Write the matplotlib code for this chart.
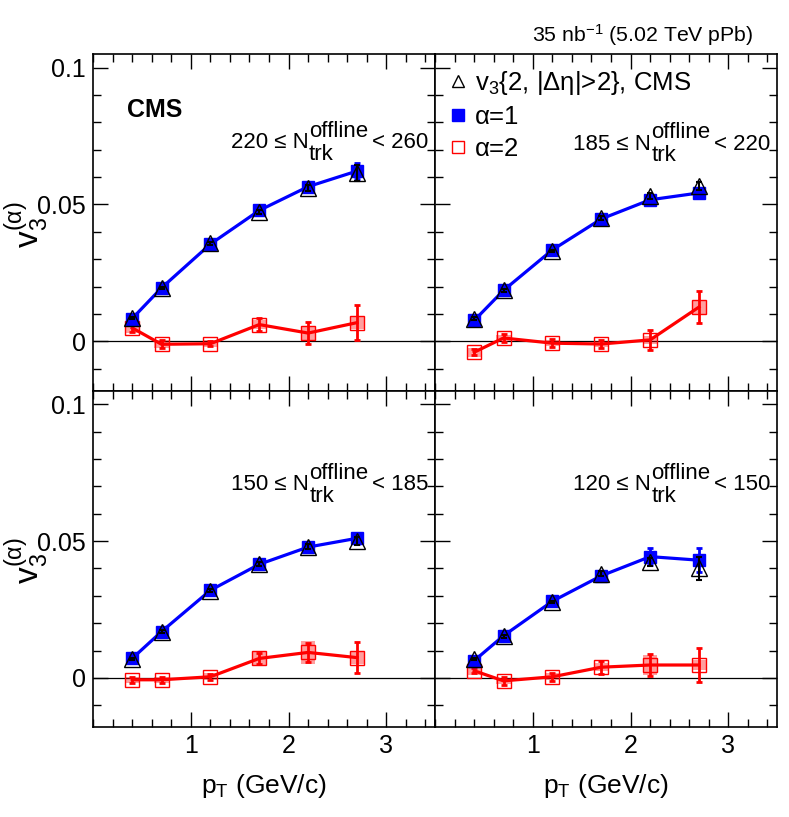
import matplotlib.pyplot as plt
from matplotlib.lines import Line2D
from matplotlib.ticker import MultipleLocator

plt.rcParams['font.family'] = ['Liberation Sans', 'DejaVu Sans']
plt.rcParams['mathtext.fontset'] = 'custom'
plt.rcParams['mathtext.rm'] = 'Liberation Sans'
plt.rcParams['mathtext.it'] = 'Liberation Sans:italic'
plt.rcParams['mathtext.bf'] = 'Liberation Sans:bold'

# pT bin centres (GeV/c)
pt = [0.4, 0.7, 1.2, 1.7, 2.2, 2.7]

# panel labels (multiplicity ranges)
ranges = ["220", "260"], ["185", "220"], ["150", "185"], ["120", "150"]

# alpha = 1 (blue filled squares)
a1 = [[0.0083, 0.0195, 0.0355, 0.0478, 0.0565, 0.0622],
      [0.0076, 0.0186, 0.0334, 0.0447, 0.0517, 0.0542],
      [0.0071, 0.0169, 0.0320, 0.0415, 0.0478, 0.0510],
      [0.0063, 0.0154, 0.0280, 0.0373, 0.0443, 0.0430]]
a1_err = [[0.0008, 0.0008, 0.0008, 0.0010, 0.0015, 0.0030],
          [0.0008, 0.0008, 0.0008, 0.0010, 0.0012, 0.0018],
          [0.0008, 0.0008, 0.0008, 0.0010, 0.0012, 0.0020],
          [0.0008, 0.0008, 0.0008, 0.0010, 0.0030, 0.0043]]

# v3{2, |deta|>2} (open black triangles)
v32 = [[0.0085, 0.0195, 0.0358, 0.0472, 0.0560, 0.0615],
       [0.0082, 0.0186, 0.0330, 0.0450, 0.0530, 0.0566],
       [0.0069, 0.0169, 0.0318, 0.0417, 0.0480, 0.0500],
       [0.0069, 0.0152, 0.0277, 0.0381, 0.0422, 0.0400]]
v32_err = [[0.0005, 0.0005, 0.0005, 0.0008, 0.0012, 0.0030],
           [0.0005, 0.0005, 0.0005, 0.0008, 0.0010, 0.0015],
           [0.0005, 0.0005, 0.0005, 0.0008, 0.0010, 0.0015],
           [0.0005, 0.0005, 0.0005, 0.0008, 0.0015, 0.0043]]

# alpha = 2 (red open squares) with stat errors and systematic boxes
a2 = [[0.0049, -0.0011, -0.0009, 0.0061, 0.0030, 0.0068],
      [-0.0040, 0.0012, -0.0007, -0.0010, 0.0005, 0.0125],
      [-0.0007, -0.0007, 0.0004, 0.0071, 0.0093, 0.0074],
      [0.0026, -0.0011, 0.0004, 0.0039, 0.0047, 0.0047]]
a2_err = [[0.0015, 0.0015, 0.0010, 0.0025, 0.0040, 0.0063],
          [0.0010, 0.0015, 0.0015, 0.0015, 0.0037, 0.0060],
          [0.0010, 0.0012, 0.0010, 0.0020, 0.0035, 0.0056],
          [0.0010, 0.0015, 0.0015, 0.0024, 0.0041, 0.0061]]
a2_sys = [[0.0020, 0.0015, 0.0012, 0.0018, 0.0025, 0.0022],
          [0.0017, 0.0012, 0.0012, 0.0012, 0.0015, 0.0025],
          [0.0012, 0.0012, 0.0012, 0.0025, 0.0043, 0.0022],
          [0.0015, 0.0012, 0.0012, 0.0015, 0.0035, 0.0018]]

fig, axes = plt.subplots(2, 2, figsize=(7.89, 8.17), dpi=100, sharex=True, sharey=True)
fig.subplots_adjust(left=0.118, right=0.985, top=0.934, bottom=0.110, wspace=0, hspace=0)

text_y = [0.72, 0.716, 0.703, 0.703]


def nlabel(ax, lo, hi, y):
    fs = 16
    t1 = ax.text(0.402, y, lo + " ≤ N", transform=ax.transAxes, ha='left',
                 va='baseline', fontsize=fs)
    t2 = ax.annotate("offline", xy=(1, 0), xycoords=t1, xytext=(0.5, 8),
                     textcoords='offset points', ha='left', va='bottom', fontsize=fs)
    ax.annotate("trk", xy=(1, 0), xycoords=t1, xytext=(0.5, -8.5),
                textcoords='offset points', ha='left', va='bottom', fontsize=fs)
    ax.annotate("< " + hi, xy=(1, 0), xycoords=t2, xytext=(3, -8),
                textcoords='offset points', ha='left', va='bottom', fontsize=fs)


for i, ax in enumerate(axes.flat):
    ax.axhline(0, color='black', lw=0.9, zorder=1)

    # alpha = 2
    ax.plot(pt, a2[i], color='red', lw=2.3, zorder=2)
    lo = [y - s for y, s in zip(a2[i], a2_sys[i])]
    hi = [2 * s for s in a2_sys[i]]
    ax.bar(pt, hi, bottom=lo, width=0.15, color='red', alpha=0.38, lw=0, zorder=3)
    ax.errorbar(pt, a2[i], yerr=a2_err[i], fmt='none', ecolor='red', elinewidth=2,
                capsize=2, capthick=2, zorder=4)
    ax.plot(pt, a2[i], ls='none', marker='s', ms=9.5, mfc='none', mec='red', mew=1.0, zorder=5)

    # alpha = 1
    ax.plot(pt, a1[i], color='blue', lw=2.3, zorder=6)
    ax.errorbar(pt, a1[i], yerr=a1_err[i], fmt='s', color='blue', ms=8.5, elinewidth=2,
                capsize=2, capthick=2, zorder=7)

    # v3{2}
    ax.errorbar(pt, v32[i], yerr=v32_err[i], fmt='none', ecolor='black', elinewidth=1.5,
                capsize=2, capthick=1.5, zorder=8)
    ax.plot(pt, v32[i], ls='none', marker='^', ms=11.5, mfc='none', mec='black', mew=1.0, zorder=9)

    nlabel(ax, ranges[i][0], ranges[i][1], text_y[i])

    ax.set_xlim(0, 3.5)
    ax.set_ylim(-0.018, 0.105)
    ax.set_xticks([1, 2, 3])
    ax.xaxis.set_minor_locator(MultipleLocator(0.2))
    ax.yaxis.set_minor_locator(MultipleLocator(0.01))
    ax.tick_params(which='both', direction='in', top=True, right=True, labelsize=18, pad=5)
    ax.tick_params(which='major', length=11, width=1)
    ax.tick_params(which='minor', length=6, width=1)
    for s in ax.spines.values():
        s.set_linewidth(1.2)

for ax in axes[:, 0]:
    ax.set_yticks([0, 0.05, 0.1])
    ax.set_yticklabels(["0", "0.05", "0.1"])
    ax.text(-0.195, 0.563, "v$_3^{\\rm(α)}$", transform=ax.transAxes, rotation=90,
            ha='center', va='top', fontsize=24)

for ax in axes[1, :]:
    ax.set_xlabel(r"p$_{\rm T}$ (GeV/c)", fontsize=19, labelpad=10)

axes[0, 0].text(0.1, 0.833, "CMS", transform=axes[0, 0].transAxes, fontsize=18,
                fontweight='bold', va='center', ha='left')

handles = [
    Line2D([], [], ls='none', marker='^', ms=8, mfc='none', mec='black', mew=1.0),
    Line2D([], [], ls='none', marker='s', ms=8, color='blue'),
    Line2D([], [], ls='none', marker='s', ms=8, mfc='none', mec='red', mew=1.0),
]
labels = ["v$_3${2, |Δη|>2}, CMS", "α=1", "α=2"]
axes[0, 1].legend(handles, labels, loc='upper left', frameon=False, fontsize=18.5,
                  handlelength=0.6, handletextpad=0.35, labelspacing=0.3,
                  borderaxespad=0.2, bbox_to_anchor=(0.0, 1.0))

fig.text(0.955, 0.957, r"35 nb$^{-1}$ (5.02 TeV pPb)", ha='right', va='center', fontsize=15.3)

fig.savefig("out.png", dpi=100)
